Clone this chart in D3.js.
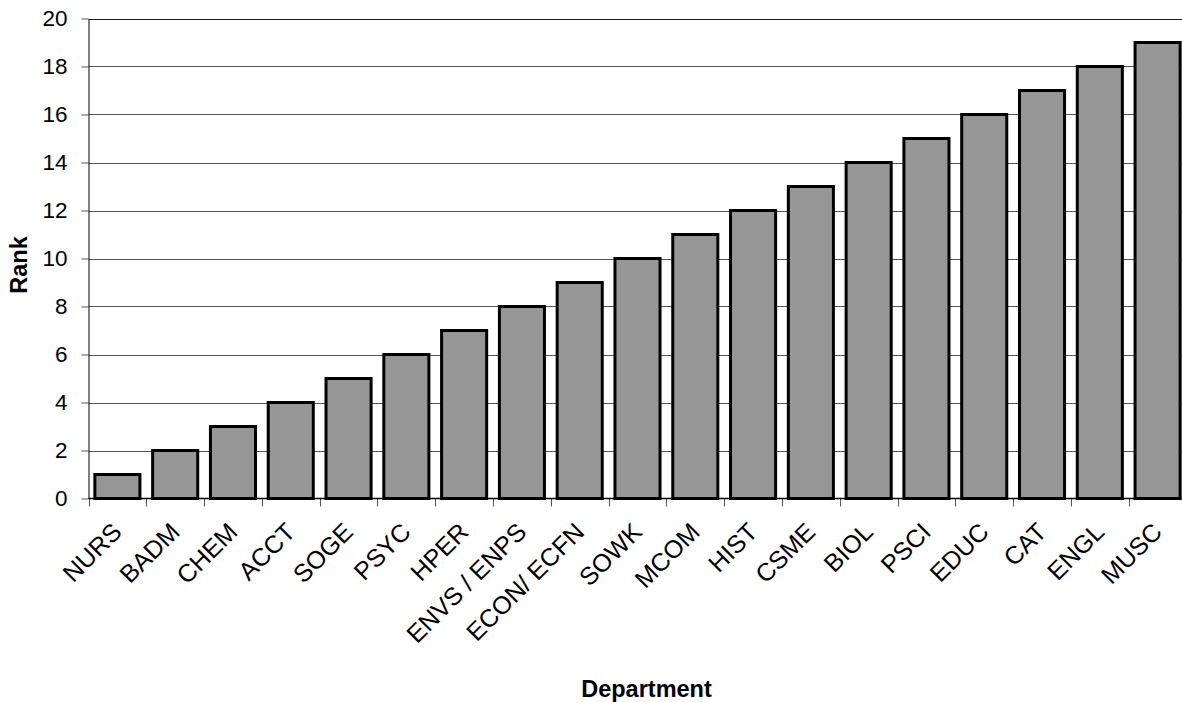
<!DOCTYPE html>
<html>
<head>
<meta charset="utf-8">
<script src="https://cdn.jsdelivr.net/npm/d3@7"></script>
<style>
  html, body { margin: 0; padding: 0; background: #fff; }
  svg { display: block; }
  text { font-family: "Liberation Sans", Arial, sans-serif; fill: #000; }
</style>
</head>
<body>
<svg id="chart" width="1182" height="702"></svg>
<script>
const categories = ["NURS","BADM","CHEM","ACCT","SOGE","PSYC","HPER","ENVS / ENPS","ECON/ ECFN","SOWK","MCOM","HIST","CSME","BIOL","PSCI","EDUC","CAT","ENGL","MUSC"];
const ranks = [1,2,3,4,5,6,7,8,9,10,11,12,13,14,15,16,17,18,19];
const yTicks = [0,2,4,6,8,10,12,14,16,18,20];
const xTitle = "Department";
const yTitle = "Rank";

const svg = d3.select("#chart");
const pLeft = 88.5, pRight = 1186.5, pTop = 18.5, pBottom = 498.5;

const x = d3.scaleBand().domain(categories).range([pLeft, pRight]).paddingInner(0.22).paddingOuter(0.11);
const y = d3.scaleLinear().domain([0, 20]).range([pBottom, pTop]);

// gridlines
svg.append("g").selectAll("line").data(yTicks.filter(d => d > 0)).join("line")
  .attr("x1", pLeft).attr("x2", pRight)
  .attr("y1", d => Math.round(y(d)) + 0.5).attr("y2", d => Math.round(y(d)) + 0.5)
  .attr("stroke", d => d === 20 ? "#222" : "#555").attr("stroke-width", 1);

// y axis
const yAxis = d3.axisLeft(y).tickValues(yTicks).tickSize(7).tickPadding(14).tickSizeOuter(0);
const gy = svg.append("g").attr("transform", `translate(${pLeft},0)`).call(yAxis);
gy.select(".domain").attr("stroke", "#000");
gy.selectAll(".tick line").attr("stroke", "#555");
gy.selectAll(".tick text").style("font-size", "22.5px").attr("font-family", null);

// bars
svg.append("g").selectAll("rect").data(categories).join("rect")
  .attr("x", d => x(d))
  .attr("width", x.bandwidth())
  .attr("y", (d, i) => y(ranks[i]))
  .attr("height", (d, i) => y(0) - y(ranks[i]))
  .attr("fill", "#969696")
  .attr("stroke", "#000")
  .attr("stroke-width", 3);

// x axis line + ticks at category boundaries
const step = x.step();
const boundaries = d3.range(categories.length + 1).map(i => pLeft + i * step);
svg.append("g").selectAll("line").data(boundaries).join("line")
  .attr("x1", d => Math.round(d) + 0.5).attr("x2", d => Math.round(d) + 0.5)
  .attr("y1", pBottom).attr("y2", pBottom + 8)
  .attr("stroke", "#555").attr("stroke-width", 1);
svg.append("line").attr("x1", pLeft).attr("x2", pRight).attr("y1", pBottom).attr("y2", pBottom)
  .attr("stroke", "#000").attr("stroke-width", 1.5);

// category labels rotated
svg.append("g").selectAll("text").data(categories).join("text")
  .attr("transform", d => `translate(${x(d) + x.bandwidth() / 2 + 6},${pBottom + 35}) rotate(-45)`)
  .attr("text-anchor", "end")
  .style("font-size", "25px")
  .text(d => d);

// axis titles
svg.append("text").attr("x", 646.5).attr("y", 696.5)
  .attr("text-anchor", "middle").style("font-size", "23.5px").style("font-weight", "bold").text(xTitle);
svg.append("text").attr("transform", "translate(26.5,265) rotate(-90)")
  .attr("text-anchor", "middle").style("font-size", "23.5px").style("font-weight", "bold").text(yTitle);
</script>
</body>
</html>
